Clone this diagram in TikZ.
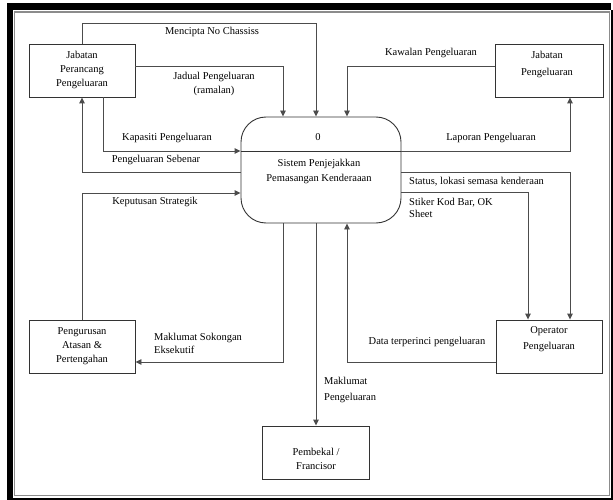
\documentclass[tikz,border=0pt]{standalone}
\usepackage{fontspec}
\setmainfont{Liberation Serif}
\usetikzlibrary{arrows.meta}
\newcommand\dfdfont{\fontsize{10.5}{14}\selectfont}
\tikzset{
  box/.style={draw=black!80, line width=0.9pt, rectangle, inner sep=0pt},
  procbox/.style={draw=black!80, line width=0.9pt, rectangle, rounded corners=25pt, inner sep=0pt},
  flow/.style={draw=black!70, line width=0.9pt, -{Triangle[length=6pt,width=5.5pt]}},
  lbl/.style={font=\dfdfont, inner sep=0pt, text=black},
}
\begin{document}
\begin{tikzpicture}[x=1pt,y=-1pt]
\useasboundingbox (0,0) rectangle (613,500);
% frame
\fill[black] (7,3) rectangle (12.5,500);
\fill[black] (7,3) rectangle (611,10);
\fill[black] (7,497.5) rectangle (613,500);
\fill[black] (611,10) rectangle (613,500);
\draw[black!45, line width=1.5pt] (14.5,12) rectangle (609.5,495.5);

% boxes
\node[box, minimum width=106, minimum height=53] (A) at (82,70.5) {};
\node[box, minimum width=108, minimum height=53] (B) at (549,70.5) {};
\node[box, minimum width=106, minimum height=53] (C) at (82,346.5) {};
\node[box, minimum width=106, minimum height=53] (D) at (549,346.5) {};
\node[box, minimum width=107, minimum height=53] (E) at (315.5,452.5) {};
\node[procbox, minimum width=160, minimum height=106] (P) at (321,170) {};
\draw[black!80, line width=0.9pt] (P.west |- 0,151) -- (P.east |- 0,151);

% box texts
\node[lbl, align=center] (tA) at (82,70) {Jabatan\\Perancang\\Pengeluaran};
\node[lbl, align=center] (tB) at (547,64.5) {Jabatan\\[2.5pt]Pengeluaran};
\node[lbl, align=center] (tC) at (82,346) {Pengurusan\\Atasan \&\\Pertengahan};
\node[lbl, align=center] (tD) at (549,339) {Operator\\[2pt]Pengeluaran};
\node[lbl, align=center] (tE) at (316,459) {Pembekal /\\Francisor};
\node[lbl] (tP0) at (318,137) {0};
\node[lbl, align=center] (tP) at (319,171) {Sistem Penjejakkan\\[1pt]Pemasangan Kenderaaan};

% connectors
\draw[flow] (A.north) |- (316,23) -- (P.north -| 316,0);
\draw[flow] (A.east |- 0,66) -| (P.north -| 283,0);
\draw[flow] (B.west |- 0,66) -| (P.north -| 347,0);
\draw[flow] (A.south -| 103,0) |- (P.west |- 0,151);
\draw[flow] (P.west |- 0,172) -| (A.south);
\draw[flow] (C.north) |- (P.west |- 0,193);
\draw[flow] (P.south -| 283,0) |- (C.east |- 0,362);
\draw[flow] (P.south -| 316,0) -- (E.north -| 316,0);
\draw[flow] (D.west |- 0,362) -| (P.south -| 347,0);
\draw[flow] (P.east |- 0,151) -| (B.south -| 570,0);
\draw[flow] (P.east |- 0,172) -| (D.north -| 570,0);
\draw[flow] (P.east |- 0,192) -| (D.north -| 528,0);

% connector labels
\node[lbl] (l1) at (212,32) {Mencipta No Chassiss};
\node[lbl, align=center] (l2) at (214,83.5) {Jadual Pengeluaran\\(ramalan)};
\node[lbl] (l3) at (431,53) {Kawalan Pengeluaran};
\node[lbl] (l4) at (167,138) {Kapasiti Pengeluaran};
\node[lbl] (l5) at (156,160) {Pengeluaran Sebenar};
\node[lbl] (l6) at (155,202) {Keputusan Strategik};
\node[lbl, align=left, anchor=west] (l7) at (154,343.5) {Maklumat Sokongan\\[-1pt]Eksekutif};
\node[lbl, align=left, anchor=west] (l8) at (324,390) {Maklumat\\[2pt]Pengeluaran};
\node[lbl] (l9) at (427,342) {Data terperinci pengeluaran};
\node[lbl] (l10) at (491,138) {Laporan Pengeluaran};
\node[lbl, anchor=west] (l11) at (409,182) {Status, lokasi semasa kenderaan};
\node[lbl, align=left, anchor=west] (l12) at (409,208) {Stiker Kod Bar, OK\\[-2pt]Sheet};
\end{tikzpicture}
\end{document}
